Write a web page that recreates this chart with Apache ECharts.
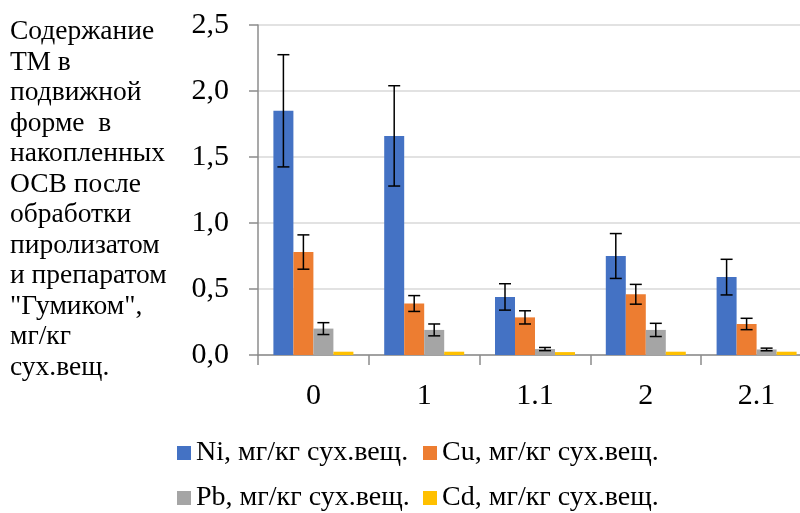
<!DOCTYPE html>
<html>
<head>
<meta charset="utf-8">
<script src="https://cdn.jsdelivr.net/npm/echarts@6/dist/echarts.min.js"></script>
<style>html,body{margin:0;padding:0;background:#fff;overflow:hidden}#c{width:800px;height:513px}</style>
</head>
<body>
<div id="c"></div>
<script>
var categories = ['0', '1', '1.1', '2', '2.1'];
var seriesNames = ['Ni, мг/кг сух.вещ.', 'Cu, мг/кг сух.вещ.', 'Pb, мг/кг сух.вещ.', 'Cd, мг/кг сух.вещ.'];
var niValues = [1.85, 1.66, 0.44, 0.75, 0.59];
var cuValues = [0.78, 0.39, 0.285, 0.46, 0.235];
var pbValues = [0.20, 0.19, 0.045, 0.19, 0.042];
var cdValues = [0.025, 0.025, 0.022, 0.025, 0.025];
var niErrors = [0.425, 0.38, 0.10, 0.17, 0.135];
var cuErrors = [0.13, 0.06, 0.05, 0.075, 0.043];
var pbErrors = [0.045, 0.045, 0.012, 0.05, 0.01];
var yTicks = [0, 0.5, 1.0, 1.5, 2.0, 2.5];
var yTitle = 'Содержание\nТМ в\nподвижной\nформе  в\nнакопленных\nОСВ после\nобработки\nпиролизатом\nи препаратом\n"Гумиком",\nмг/кг\nсух.вещ.';

var colors = ['#4472C4', '#ED7D31', '#A5A5A5', '#FFC000'];
var FONT = '"Liberation Serif", "Times New Roman", serif';
var BAR_W = 20;
var values = [niValues, cuValues, pbValues, cdValues];
var errors = [niErrors, cuErrors, pbErrors, null];

var chart = echarts.init(document.getElementById('c'), null, {renderer: 'canvas'});

var series = [];
values.forEach(function (vals, i) {
  series.push({
    name: seriesNames[i],
    type: 'bar',
    data: vals,
    barWidth: BAR_W,
    barGap: '0%',
    itemStyle: {color: colors[i]},
    z: 2
  });
});
errors.forEach(function (errs, i) {
  if (!errs) return;
  var data = values[i].map(function (v, k) { return [k, v - errs[k], v + errs[k]]; });
  series.push({
    type: 'custom',
    name: 'err' + i,
    z: 5,
    silent: true,
    data: data,
    encode: {x: 0, y: [1, 2]},
    renderItem: function (params, api) {
      var c = api.value(0);
      var lo = api.coord([c, api.value(1)]);
      var hi = api.coord([c, api.value(2)]);
      var x = lo[0] + (i - 1.5) * BAR_W;
      var cap = 6;
      var st = {stroke: '#000', lineWidth: 1.5};
      return {
        type: 'group',
        children: [
          {type: 'line', shape: {x1: x, y1: lo[1], x2: x, y2: hi[1]}, style: st},
          {type: 'line', shape: {x1: x - cap, y1: lo[1], x2: x + cap, y2: lo[1]}, style: st},
          {type: 'line', shape: {x1: x - cap, y1: hi[1], x2: x + cap, y2: hi[1]}, style: st}
        ]
      };
    }
  });
});

function legendAt(name, left, top) {
  return {
    data: [name],
    left: left,
    top: top,
    orient: 'horizontal',
    icon: 'rect',
    itemWidth: 14,
    itemHeight: 14,
    itemGap: 5,
    padding: 0,
    selectedMode: false,
    textStyle: {fontFamily: FONT, fontSize: 28, lineHeight: 28, color: '#000'}
  };
}

chart.setOption({
  animation: false,
  color: colors,
  textStyle: {fontFamily: FONT},
  grid: {left: 258, width: 554, top: 25, height: 330, containLabel: false, outerBoundsMode: 'none'},
  legend: [
    legendAt(seriesNames[0], 177, 439),
    legendAt(seriesNames[1], 423, 439),
    legendAt(seriesNames[2], 177, 484),
    legendAt(seriesNames[3], 423, 484)
  ],
  graphic: [{
    type: 'text',
    left: 10,
    top: 17,
    style: {
      text: yTitle,
      font: '27.5px ' + FONT,
      fill: '#000',
      lineHeight: 30.5
    }
  }],
  xAxis: {
    type: 'category',
    data: categories,
    boundaryGap: true,
    axisLine: {show: true, lineStyle: {color: '#8C8C8C', width: 1.5}},
    axisTick: {show: true, length: 10, alignWithLabel: false, lineStyle: {color: '#8C8C8C', width: 1.5}},
    axisLabel: {fontFamily: FONT, fontSize: 30, color: '#000', margin: 26}
  },
  yAxis: {
    type: 'value',
    min: yTicks[0],
    max: yTicks[yTicks.length - 1],
    interval: 0.5,
    axisLine: {show: true, lineStyle: {color: '#8C8C8C', width: 1.5}},
    axisTick: {show: true, length: 9, lineStyle: {color: '#8C8C8C', width: 1.5}},
    splitLine: {show: true, lineStyle: {color: '#D9D9D9', width: 1.5}},
    axisLabel: {
      fontFamily: FONT, fontSize: 30, color: '#000', margin: 29,
      formatter: function (v) { return v.toFixed(1).replace('.', ','); }
    }
  },
  series: series
});
</script>
</body>
</html>
